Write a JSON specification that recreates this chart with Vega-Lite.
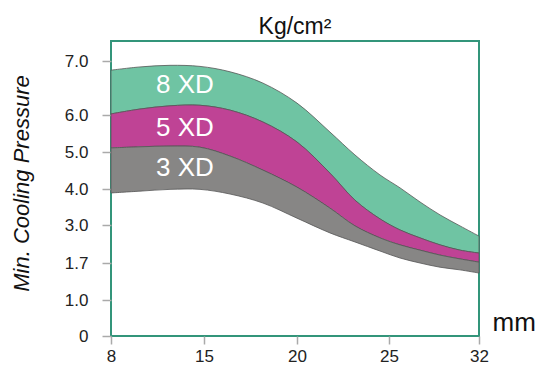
{
  "$schema": "https://vega.github.io/schema/vega-lite/v6.json",
  "width": 368,
  "height": 295,
  "autosize": {"type": "none"},
  "padding": {"left": 111, "top": 41, "right": 60, "bottom": 32},
  "background": "white",
  "title": {
    "text": "Kg/cm²",
    "anchor": "middle",
    "frame": "group",
    "baseline": "alphabetic",
    "offset": 6,
    "dy": 22,
    "font": "Liberation Sans",
    "fontSize": 23,
    "fontWeight": "normal",
    "color": "#111"
  },
  "config": {
    "view": {"stroke": "#33957a", "strokeWidth": 2},
    "axis": {
      "grid": false,
      "domain": false,
      "tickColor": "#aaa",
      "tickWidth": 1.5,
      "labelFont": "Liberation Sans",
      "labelFontSize": 17,
      "labelColor": "#222",
      "labelFlush": false,
      "titleFont": "Liberation Sans",
      "titleFontWeight": "normal",
      "titleColor": "#111"
    }
  },
  "datasets": {
    "bands": [
      {"x": 8, "band": "8 XD", "hi": 6.83, "lo": 6.02},
      {"x": 10.18, "band": "8 XD", "hi": 6.89, "lo": 6.11},
      {"x": 12.44, "band": "8 XD", "hi": 6.92, "lo": 6.17},
      {"x": 14.7, "band": "8 XD", "hi": 6.9, "lo": 6.18},
      {"x": 16.4, "band": "8 XD", "hi": 6.8, "lo": 6.09},
      {"x": 18.17, "band": "8 XD", "hi": 6.59, "lo": 5.81},
      {"x": 20.0, "band": "8 XD", "hi": 6.22, "lo": 5.27},
      {"x": 21.79, "band": "8 XD", "hi": 5.54, "lo": 4.43},
      {"x": 23.15, "band": "8 XD", "hi": 4.92, "lo": 3.69},
      {"x": 24.51, "band": "8 XD", "hi": 4.38, "lo": 3.17},
      {"x": 25.86, "band": "8 XD", "hi": 4.03, "lo": 2.83},
      {"x": 27.41, "band": "8 XD", "hi": 3.64, "lo": 2.56},
      {"x": 28.97, "band": "8 XD", "hi": 3.28, "lo": 2.32},
      {"x": 30.52, "band": "8 XD", "hi": 2.97, "lo": 2.14},
      {"x": 32, "band": "8 XD", "hi": 2.62, "lo": 2.04},
      {"x": 8, "band": "5 XD", "hi": 6.02, "lo": 5.11},
      {"x": 10.18, "band": "5 XD", "hi": 6.11, "lo": 5.14},
      {"x": 12.44, "band": "5 XD", "hi": 6.17, "lo": 5.16},
      {"x": 14.7, "band": "5 XD", "hi": 6.18, "lo": 5.13},
      {"x": 16.4, "band": "5 XD", "hi": 6.09, "lo": 4.89},
      {"x": 18.17, "band": "5 XD", "hi": 5.81, "lo": 4.51},
      {"x": 20.0, "band": "5 XD", "hi": 5.27, "lo": 4.05},
      {"x": 21.79, "band": "5 XD", "hi": 4.43, "lo": 3.47},
      {"x": 23.15, "band": "5 XD", "hi": 3.69, "lo": 2.97},
      {"x": 24.51, "band": "5 XD", "hi": 3.17, "lo": 2.56},
      {"x": 25.86, "band": "5 XD", "hi": 2.83, "lo": 2.32},
      {"x": 27.41, "band": "5 XD", "hi": 2.56, "lo": 2.14},
      {"x": 28.97, "band": "5 XD", "hi": 2.32, "lo": 1.97},
      {"x": 30.52, "band": "5 XD", "hi": 2.14, "lo": 1.84},
      {"x": 32, "band": "5 XD", "hi": 2.04, "lo": 1.73},
      {"x": 8, "band": "3 XD", "hi": 5.11, "lo": 3.89},
      {"x": 10.18, "band": "3 XD", "hi": 5.14, "lo": 3.94},
      {"x": 12.44, "band": "3 XD", "hi": 5.16, "lo": 3.99},
      {"x": 14.7, "band": "3 XD", "hi": 5.13, "lo": 3.99},
      {"x": 16.4, "band": "3 XD", "hi": 4.89, "lo": 3.86},
      {"x": 18.17, "band": "3 XD", "hi": 4.51, "lo": 3.61},
      {"x": 20.0, "band": "3 XD", "hi": 4.05, "lo": 3.19},
      {"x": 21.79, "band": "3 XD", "hi": 3.47, "lo": 2.73},
      {"x": 23.15, "band": "3 XD", "hi": 2.97, "lo": 2.42},
      {"x": 24.51, "band": "3 XD", "hi": 2.56, "lo": 2.11},
      {"x": 25.86, "band": "3 XD", "hi": 2.32, "lo": 1.87},
      {"x": 27.41, "band": "3 XD", "hi": 2.14, "lo": 1.7},
      {"x": 28.97, "band": "3 XD", "hi": 1.97, "lo": 1.62},
      {"x": 30.52, "band": "3 XD", "hi": 1.84, "lo": 1.57},
      {"x": 32, "band": "3 XD", "hi": 1.73, "lo": 1.51}
    ],
    "labels": [
      {"x": 13.57, "y": 6.56, "label": "8 XD"},
      {"x": 13.57, "y": 5.66, "label": "5 XD"},
      {"x": 13.57, "y": 4.58, "label": "3 XD"}
    ]
  },
  "encoding": {
    "x": {
      "field": "x",
      "type": "quantitative",
      "scale": {"domain": [8, 15, 20, 25, 32], "range": [0, 93, 186, 278, 368], "nice": false, "zero": false},
      "axis": {
        "values": [8, 15, 20, 25, 32],
        "tickSize": 8,
        "labelPadding": 4,
        "title": "mm",
        "titleFontSize": 26,
        "titleX": 381,
        "titleY": -6,
        "titleAlign": "left",
        "titleBaseline": "alphabetic",
        "titleAnchor": null
      }
    },
    "y": {
      "type": "quantitative",
      "scale": {"domain": [0, 1, 1.7, 3, 4, 5, 6, 7, 7.37], "range": [295, 259, 222, 184, 148, 111, 74, 20, 0], "nice": false, "zero": false},
      "axis": {
        "values": [0, 1, 1.7, 3, 4, 5, 6, 7],
        "labelExpr": "datum.value == 0 ? '0' : format(datum.value, '.1f')",
        "tickSize": 9,
        "labelPadding": 14,
        "title": "Min. Cooling Pressure",
        "titleFontSize": 22,
        "titleFontStyle": "italic",
        "titleAngle": -90,
        "titleX": -83,
        "titleY": 142,
        "titleAlign": "center",
        "titleBaseline": "alphabetic"
      }
    }
  },
  "layer": [
    {
      "data": {"name": "bands"},
      "mark": {"type": "area", "interpolate": "catmull-rom", "stroke": "#555", "strokeWidth": 0.8},
      "encoding": {
        "y": {"field": "hi"},
        "y2": {"field": "lo"},
        "color": {
          "field": "band",
          "type": "nominal",
          "scale": {"domain": ["8 XD", "5 XD", "3 XD"], "range": ["#6fc4a3", "#bf4395", "#878685"]},
          "legend": null
        }
      }
    },
    {
      "data": {"name": "labels"},
      "mark": {"type": "text", "font": "Liberation Sans", "fontSize": 26, "color": "white", "align": "center", "baseline": "middle"},
      "encoding": {
        "y": {"field": "y"},
        "text": {"field": "label"}
      }
    }
  ]
}
